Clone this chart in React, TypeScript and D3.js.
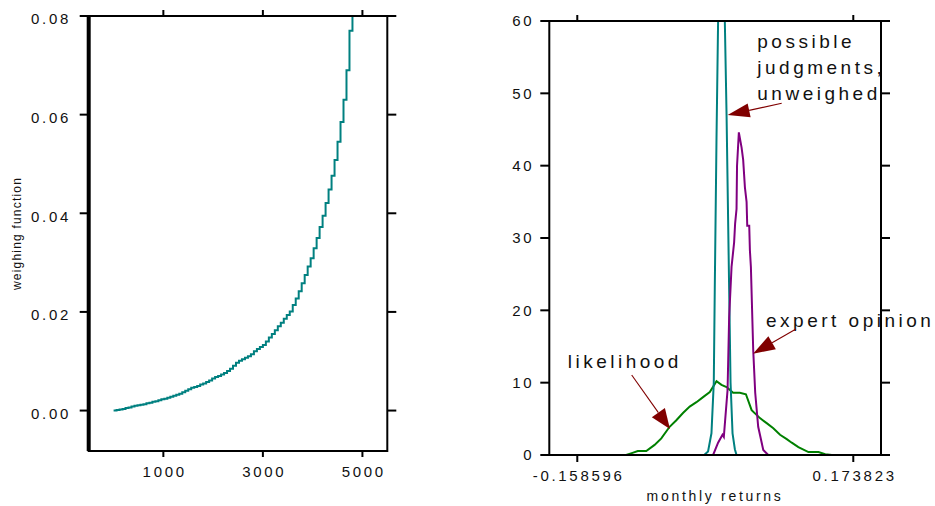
import React from 'react';
import * as d3 from 'd3';

// left panel: weighing function (step curve)
const wfX = [0, 60, 120, 180, 240, 300, 360, 420, 480, 540, 600, 660, 720, 780, 840, 900, 960, 1020, 1080, 1140,
  1200, 1260, 1320, 1380, 1440, 1500, 1560, 1620, 1680, 1740, 1800, 1860, 1920, 1980, 2040, 2100, 2160, 2220, 2280, 2340,
  2400, 2460, 2520, 2580, 2640, 2700, 2760, 2820, 2880, 2940, 3000, 3060, 3120, 3180, 3240, 3300, 3360, 3420, 3480, 3540,
  3600, 3660, 3720, 3780, 3840, 3900, 3960, 4020, 4080, 4140, 4200, 4260, 4320, 4380, 4440, 4500, 4560, 4620, 4680, 4740, 4800];
const wfY = [0, 0.0001, 0.0002, 0.0003, 0.0005, 0.0006, 0.0008, 0.001, 0.0011, 0.0012, 0.0013, 0.0015, 0.0016, 0.0018,
  0.0019, 0.0021, 0.0023, 0.0024, 0.0026, 0.0028, 0.003, 0.0032, 0.0034, 0.0037, 0.004, 0.0043, 0.0046, 0.0048, 0.005,
  0.0053, 0.0055, 0.0058, 0.0061, 0.0065, 0.0068, 0.007, 0.0073, 0.0076, 0.008, 0.0085, 0.0091, 0.0097, 0.0101, 0.0104,
  0.0107, 0.011, 0.0114, 0.012, 0.0125, 0.0129, 0.0133, 0.014, 0.0148, 0.0155, 0.0163, 0.0171, 0.0178, 0.0186, 0.0194,
  0.0201, 0.0214, 0.0227, 0.0242, 0.0258, 0.0275, 0.0292, 0.0309, 0.0329, 0.035, 0.0372, 0.0395, 0.0421, 0.0448, 0.0476,
  0.0508, 0.0545, 0.0585, 0.063, 0.069, 0.077, 0.09];
const leftYTicks = [0, 0.02, 0.04, 0.06, 0.08];
const leftXTicks = [1000, 3000, 5000];

// right panel: densities of monthly returns
const judgX = [-0.0057, -0.0011, 0.003, 0.0058, 0.007, 0.0091, 0.011, 0.0149, 0.0191, 0.0212, 0.0243, 0.026, 0.0284, 0.0312, 0.0332];
const judgY = [0, 0.5, 3, 10, 23, 44, 60, 70, 60, 47, 23, 10, 3, 0.8, 0];

const expX = [0.005, 0.011, 0.0163, 0.0179, 0.0224, 0.0243, 0.0272, 0.0303, 0.0315, 0.0332, 0.0338, 0.036, 0.0393, 0.0412,
  0.0433, 0.0453, 0.0461, 0.0485, 0.0493, 0.0505, 0.0533, 0.0557, 0.0593, 0.0654, 0.0714];
const expY = [0, 1.7, 2.8, 2.5, 9, 19, 26, 29.4, 32, 34, 40, 44.6, 42.5, 40.8, 37, 35, 31.7, 31.7, 28.3, 26, 14.5, 8.6, 3.9, 0.7, 0];

const likX = [-0.159, -0.0997, -0.0921, -0.0857, -0.0755, -0.0655, -0.0574, -0.0474, -0.0393, -0.0313, -0.0232, -0.0151,
  -0.0071, 0.001, 0.0091, 0.0151, 0.0212, 0.0291, 0.0372, 0.0445, 0.0514, 0.0614, 0.0695, 0.0775, 0.0856, 0.0937, 0.0997,
  0.1077, 0.1198, 0.1319, 0.14, 0.148, 0.1738];
const likY = [0, 0, 0.3, 0.55, 0.55, 1.4, 2.3, 3.9, 4.8, 5.8, 6.7, 7.3, 8.0, 8.7, 10.2, 9.7, 9.4, 8.6, 8.6, 8.4, 6.2, 5.1,
  4.4, 3.7, 2.8, 2.2, 1.7, 1.1, 0.4, 0.4, 0.1, 0, 0];
const rightYTicks = [0, 10, 20, 30, 40, 50, 60];
const rightXTicks = [-0.158596, 0.173823];

const FONT = '"Liberation Sans", Arial, sans-serif';
const TXT = '#111';
const LS = 2.7;

const zip = (xs: number[], ys: number[]) => xs.map((x, i) => [x, ys[i]] as [number, number]);

export default function App() {
  // left panel scales
  const lx = d3.scaleLinear().domain([-500, 5500]).range([88.7, 387.3]);
  const ly = d3.scaleLinear().domain([-0.0082, 0.08]).range([451, 16]);
  const lineL = d3.line<[number, number]>().x(d => lx(d[0])).y(d => ly(d[1])).curve(d3.curveStepAfter);

  // right panel scales
  const rx = d3.scaleLinear().domain([-0.1923, 0.2072]).range([549.3, 881]);
  const ry = d3.scaleLinear().domain([0, 60]).range([455, 21]);
  const lineR = d3.line<[number, number]>().x(d => rx(d[0])).y(d => ry(d[1]));

  const [lx0, lx1] = lx.range();
  const [ly0, ly1] = ly.range();
  const [rx0, rx1] = rx.range();
  const [ry0, ry1] = ry.range();

  const arrow = (x1: number, y1: number, tx: number, ty: number, len = 20, half = 8) => {
    const a = Math.atan2(ty - y1, tx - x1);
    const bx = tx - len * Math.cos(a), by = ty - len * Math.sin(a);
    const px = -Math.sin(a) * half, py = Math.cos(a) * half;
    return (
      <g>
        <line x1={x1} y1={y1} x2={bx} y2={by} stroke="#800000" strokeWidth={1.1} />
        <path d={`M${tx},${ty}L${bx + px},${by + py}L${bx - px},${by - py}Z`} fill="#800000" />
      </g>
    );
  };

  return (
    <svg width={935} height={506} style={{ position: 'absolute', left: 0, top: 0, background: '#fff' }}
      fontFamily={FONT}>
      <defs>
        <clipPath id="clipL"><rect x={lx0} y={ly1} width={lx1 - lx0} height={ly0 - ly1} /></clipPath>
        <clipPath id="clipR"><rect x={rx0} y={ry1} width={rx1 - rx0} height={ry0 - ry1} /></clipPath>
      </defs>

      {/* left panel */}
      <path d={lineL(zip(wfX, wfY)) || ''} fill="none" stroke="#008080" strokeWidth={2} clipPath="url(#clipL)" />
      <rect x={lx0} y={ly1} width={lx1 - lx0} height={ly0 - ly1} fill="none" stroke="#000" strokeWidth={2} />
      <line x1={lx0} x2={lx0} y1={ly1} y2={ly0} stroke="#000" strokeWidth={4} />
      {leftYTicks.map(t => (
        <g key={t}>
          <line x1={lx0 - 9} x2={lx0} y1={ly(t)} y2={ly(t)} stroke="#000" strokeWidth={2} />
          <line x1={lx1} x2={lx1 + 9} y1={ly(t)} y2={ly(t)} stroke="#000" strokeWidth={2} />
          <text x={68.3 + LS} y={ly(t) + 3} dy="0.35em" textAnchor="end" fontSize={15} letterSpacing={LS} fill={TXT}>
            {d3.format('.2f')(t)}
          </text>
        </g>
      ))}
      {leftXTicks.map(t => (
        <g key={t}>
          <line x1={lx(t)} x2={lx(t)} y1={ly1 - 6} y2={ly1} stroke="#000" strokeWidth={2} />
          <line x1={lx(t)} x2={lx(t)} y1={ly0} y2={ly0 + 6} stroke="#000" strokeWidth={2} />
          <text x={lx(t) + LS / 2} y={477} textAnchor="middle" fontSize={15} letterSpacing={LS} fill={TXT}>{t}</text>
        </g>
      ))}
      <text transform={`translate(21,${(ly0 + ly1) / 2}) rotate(-90)`} textAnchor="middle" fontSize={12}
        letterSpacing={1.2} fill={TXT}>weighing function</text>

      {/* right panel */}
      <g clipPath="url(#clipR)" fill="none" strokeWidth={2}>
        <path d={lineR(zip(likX, likY)) || ''} stroke="#008000" />
        <path d={lineR(zip(judgX, judgY)) || ''} stroke="#008080" />
        <path d={lineR(zip(expX, expY)) || ''} stroke="#800080" />
      </g>
      <rect x={rx0} y={ry1} width={rx1 - rx0} height={ry0 - ry1} fill="none" stroke="#000" strokeWidth={2} />
      {rightYTicks.map(t => (
        <g key={t}>
          <line x1={rx0 - 9} x2={rx0} y1={ry(t)} y2={ry(t)} stroke="#000" strokeWidth={2} />
          <line x1={rx1} x2={rx1 + 9} y1={ry(t)} y2={ry(t)} stroke="#000" strokeWidth={2} />
          <text x={531.7 + LS} y={ry(t)} dy="0.35em" textAnchor="end" fontSize={15} letterSpacing={LS} fill={TXT}>{t}</text>
        </g>
      ))}
      {rightXTicks.map(t => (
        <g key={t}>
          <line x1={rx(t)} x2={rx(t)} y1={ry1 - 6} y2={ry1} stroke="#000" strokeWidth={2} />
          <line x1={rx(t)} x2={rx(t)} y1={ry0} y2={ry0 + 7} stroke="#000" strokeWidth={2} />
          <text x={rx(t) + LS / 2} y={480.5} textAnchor="middle" fontSize={15} letterSpacing={LS} fill={TXT}>{t}</text>
        </g>
      ))}
      <text x={713.7 + 1.35} y={500.5} textAnchor="middle" fontSize={14} letterSpacing={2.7} fill={TXT}>monthly returns</text>

      {/* annotations */}
      <g fontSize={19} letterSpacing={3.5} fill={TXT}>
        <text x={757.3} y={47.5}>possible</text>
        <text x={757.3} y={73.5}>judgments,</text>
        <text x={757.3} y={100}>unweighed</text>
        <text x={766} y={326.7}>expert opinion</text>
        <text x={567.7} y={368.3}>likelihood</text>
      </g>
      {arrow(781.7, 103.3, rx(0.0225), ry(47), 22, 7)}
      {arrow(796, 329, rx(0.0531), ry(14), 22, 7.5)}
      {arrow(631.7, 375, rx(-0.047), ry(3.6), 20, 8)}
    </svg>
  );
}
